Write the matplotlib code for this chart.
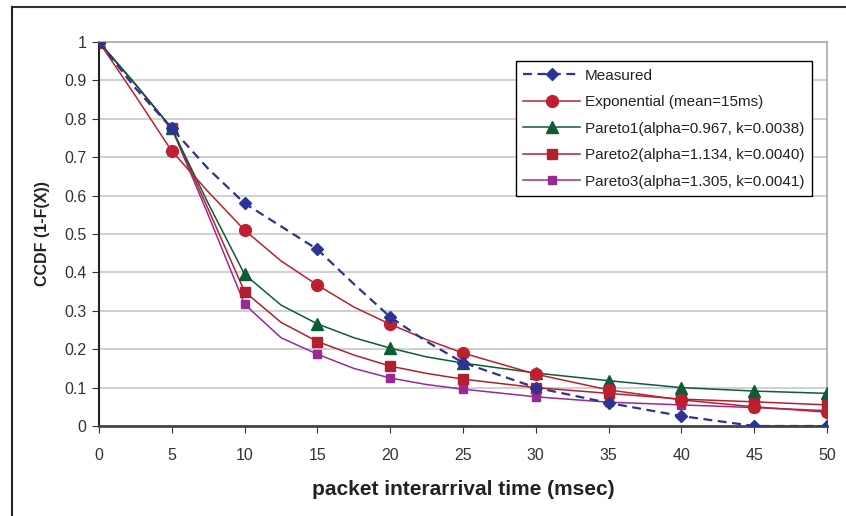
import matplotlib.pyplot as plt
from matplotlib.lines import Line2D

# packet interarrival time (msec) -- curve points, markers only on multiples of 5
t = [0, 2.5, 5, 7.5, 10, 12.5, 15, 17.5, 20, 22.5, 25, 30, 35, 40, 45, 50]

measured = [1.0, 0.88, 0.775, 0.67, 0.58, 0.52, 0.46, 0.37, 0.284, 0.22, 0.165, 0.10, 0.06, 0.026, 0.0, 0.0]
exponential = [1.0, 0.86, 0.716, 0.61, 0.51, 0.43, 0.367, 0.31, 0.265, 0.225, 0.19, 0.135, 0.094, 0.068, 0.05, 0.036]
pareto1 = [1.0, 0.89, 0.775, 0.58, 0.395, 0.315, 0.266, 0.23, 0.203, 0.18, 0.164, 0.138, 0.118, 0.10, 0.091, 0.085]
pareto2 = [1.0, 0.89, 0.775, 0.565, 0.35, 0.27, 0.22, 0.185, 0.156, 0.137, 0.122, 0.10, 0.085, 0.07, 0.063, 0.055]
pareto3 = [1.0, 0.89, 0.775, 0.55, 0.317, 0.23, 0.187, 0.15, 0.125, 0.108, 0.096, 0.076, 0.062, 0.055, 0.048, 0.04]

labels = ['Measured', 'Exponential (mean=15ms)', 'Pareto1(alpha=0.967, k=0.0038)',
          'Pareto2(alpha=1.134, k=0.0040)', 'Pareto3(alpha=1.305, k=0.0041)']

plt.rcParams['font.family'] = ['Liberation Sans', 'DejaVu Sans']

fig = plt.figure(figsize=(8.46, 5.16), dpi=100)
ax = fig.add_axes([0.117, 0.1744, 0.8605, 0.7442])

marks = [i for i, v in enumerate(t) if v % 5 == 0]

ax.plot(t, measured, color='#2b3494', lw=1.6, linestyle=(0, (4, 2.5)), marker='D', ms=6.5,
        markevery=marks, label=labels[0], zorder=6)
ax.plot(t, exponential, color='#be2030', lw=1.1, marker='o', ms=8.5,
        markevery=marks, label=labels[1], zorder=5)
ax.plot(t, pareto1, color='#0d5c36', lw=1.1, marker='^', ms=8.5,
        markevery=marks, label=labels[2], zorder=4)
ax.plot(t, pareto2, color='#b22030', lw=1.1, marker='s', ms=7,
        markevery=marks, label=labels[3], zorder=3)
ax.plot(t, pareto3, color='#982a98', lw=1.1, marker='s', ms=5.5,
        markevery=marks, label=labels[4], zorder=2)

ax.set_xlim(0, 50)
ax.set_ylim(0, 1)
ax.set_xticks(range(0, 51, 5))
ax.set_yticks([i / 10 for i in range(11)])
ax.set_yticklabels(['0'] + ['0.%d' % i for i in range(1, 10)] + ['1'])
ax.tick_params(axis='both', labelsize=11.5, color='#333333', labelcolor='#333333',
               direction='out', length=5)
ax.tick_params(axis='y', pad=4)
ax.tick_params(axis='x', pad=11)

ax.grid(axis='y', color='#c8c8c8', lw=1.2)
ax.set_axisbelow(True)
ax.spines['left'].set_color('#222222')
ax.spines['left'].set_linewidth(1.5)
ax.spines['bottom'].set_color('#444444')
ax.spines['bottom'].set_linewidth(2)
ax.spines['top'].set_color('#aaaaaa')
ax.spines['right'].set_color('#aaaaaa')
ax.spines['top'].set_linewidth(1.2)
ax.spines['right'].set_linewidth(1.2)

ax.set_xlabel('packet interarrival time (msec)', fontsize=15, fontweight='bold',
              color='#222222', labelpad=12)
ax.set_ylabel('CCDF (1-F(X))', fontsize=11.5, fontweight='bold', color='#222222', labelpad=10)

leg = ax.legend(loc='upper right', bbox_to_anchor=(0.979, 0.9505), fontsize=11, frameon=True,
                fancybox=False, framealpha=1, edgecolor='black', handlelength=3.7,
                labelspacing=0.82, borderpad=0.5, handletextpad=0.3, borderaxespad=0)
leg.get_frame().set_linewidth(1.0)
for txt in leg.get_texts():
    txt.set_color('#222222')

# outer frame of the picture (cropped at right and bottom)
fig.add_artist(Line2D([12 / 846, 1], [1 - 7 / 516, 1 - 7 / 516], color='#333333', lw=1.5))
fig.add_artist(Line2D([12 / 846, 12 / 846], [0, 1 - 7 / 516], color='#222222', lw=1.5))

fig.savefig('out.png', dpi=100)
